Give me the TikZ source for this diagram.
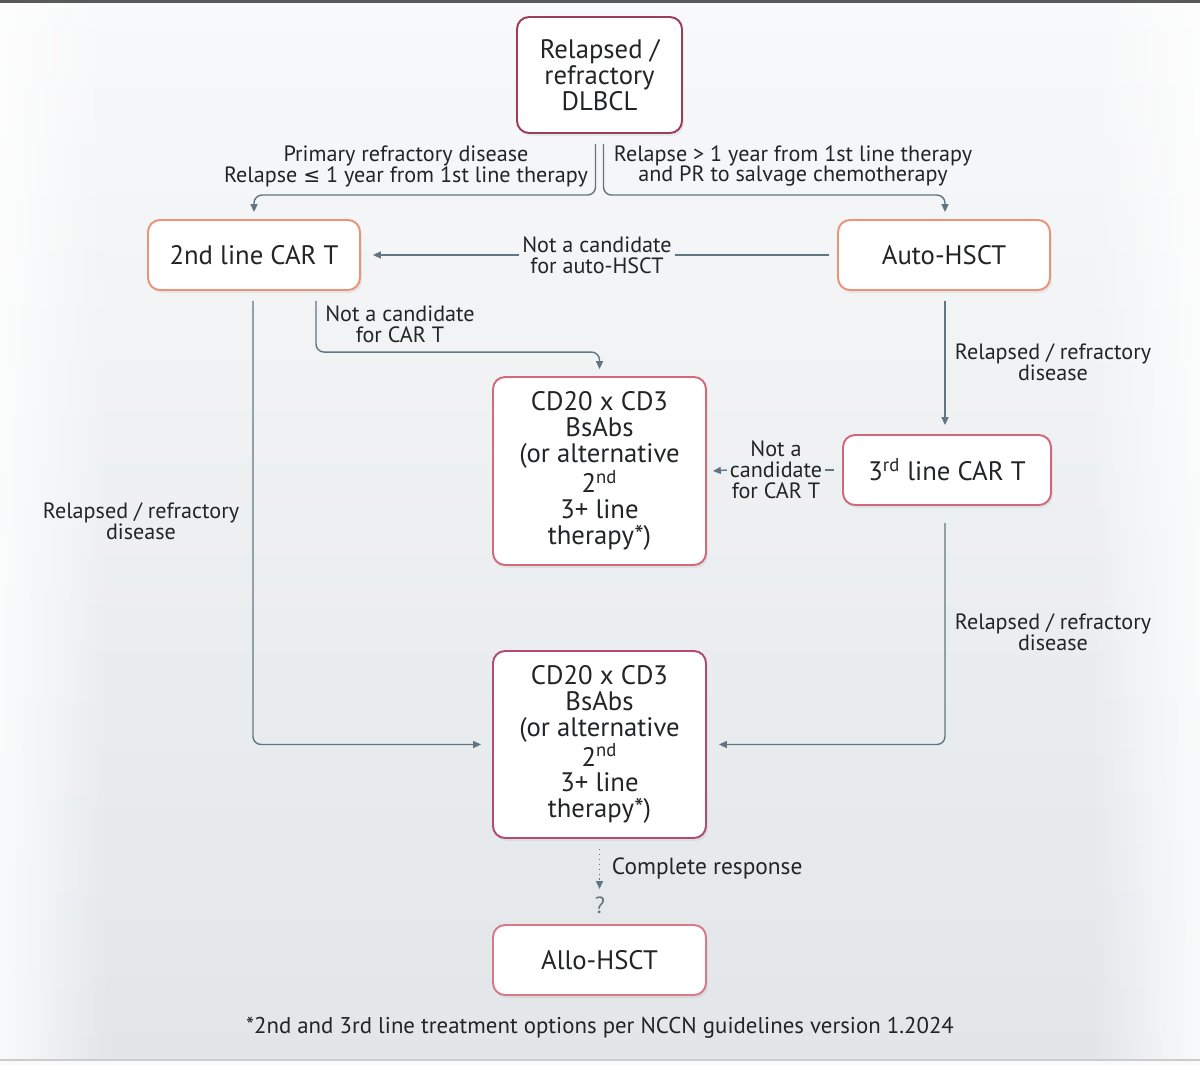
\documentclass[tikz,border=0pt]{standalone}
\usepackage{fontspec}
\setmainfont{PT Sans}
\newfontfamily\symf{DejaVu Sans}
\usetikzlibrary{calc,shadows,fadings,arrows.meta}
\definecolor{conncol}{HTML}{627681}
\definecolor{txt}{HTML}{222426}
\definecolor{topc}{HTML}{9C3D5C}
\definecolor{orc}{HTML}{E99477}
\definecolor{cdac}{HTML}{D46A78}
\definecolor{thc}{HTML}{D0687A}
\definecolor{cdbc}{HTML}{B24C6C}
\definecolor{alc}{HTML}{D77A85}
\definecolor{bgtop}{HTML}{F8F9FA}
\definecolor{bgbot}{HTML}{E2E6E9}
\newcommand\bxf{\fontsize{15.2}{14.7}\selectfont}
\newcommand\lbf{\fontsize{12.6}{11.9}\selectfont}
\newcommand\cpf{\fontsize{13.3}{13}\selectfont}
\newcommand\ftf{\fontsize{13}{13}\selectfont}
\begin{document}
\begin{tikzpicture}[x=0.02cm,y=-0.02cm,
  box/.style={draw, line width=1.1pt, fill=white, rounded corners=0.24cm, align=center,
    text=txt, font=\bxf, inner sep=2pt,
    drop shadow={opacity=0.12, shadow xshift=0.04cm, shadow yshift=-0.06cm}},
  lbl/.style={align=center, text=txt, font=\lbf, inner sep=1.5pt},
  conn/.style={draw=conncol, line width=0.8pt, -{Triangle[length=4.5pt,width=4pt]}},
  connplain/.style={draw=conncol, line width=0.8pt},
]
\useasboundingbox (0,0) rectangle (1200,1065);
\shade[top color=bgtop, bottom color=bgbot] (0,0) rectangle (1200,1060);
\fill[white, fill opacity=0.8, path fading=east] (0,0) rectangle (110,1060);
\fill[white, fill opacity=0.8, path fading=west] (1090,0) rectangle (1200,1060);
\fill[black!65] (0,0) rectangle (1200,3);
\fill[white!96!gray] (0,1060) rectangle (1200,1065);
\draw[black!20, line width=0.6pt] (0,1060) -- (1200,1060);

% boxes
\node[box, draw=topc, minimum width=3.3cm, minimum height=2.32cm] (top) at (599.5,75) {Relapsed /\\refractory\\DLBCL};
\node[box, draw=orc, minimum width=4.24cm, minimum height=1.4cm] (c2) at (254,255) {2nd line CAR T};
\node[box, draw=orc, minimum width=4.24cm, minimum height=1.4cm] (auto) at (944,255) {Auto-HSCT};
\node[box, draw=cdac, minimum width=4.26cm, minimum height=3.76cm] (cd1) at (599.5,471) {CD20 x CD3\\BsAbs\\(or alternative\\2\textsuperscript{nd}\\3+ line\\therapy*)};
\node[box, draw=thc, minimum width=4.16cm, minimum height=1.4cm] (third) at (947,470) {3\textsuperscript{rd} line CAR T};
\node[box, draw=cdbc, minimum width=4.26cm, minimum height=3.74cm] (cd2) at (599.5,744.5) {CD20 x CD3\\BsAbs\\(or alternative\\2\textsuperscript{nd}\\3+ line\\therapy*)};
\node[box, draw=alc, minimum width=4.26cm, minimum height=1.4cm] (allo) at (599.5,960) {Allo-HSCT};

% labels
\node[lbl] (l1) at (406,166) {Primary refractory disease\\Relapse {\symf\fontsize{11.5}{11.9}\selectfont ≤} 1 year from 1st line therapy};
\node[lbl] (l2) at (793,166) {Relapse > 1 year from 1st line therapy\\and PR to salvage chemotherapy};
\node[lbl] (l3) at (597,255) {Not a candidate\\for auto-HSCT};
\node[lbl] (l4) at (400,324) {Not a candidate\\for CAR T};
\node[lbl] (l5) at (141,521) {Relapsed / refractory\\disease};
\node[lbl] (l6) at (1053,362) {Relapsed / refractory\\disease};
\node[lbl] (l7) at (776,470) {Not a\\candidate\\for CAR T};
\node[lbl] (l8) at (1053,632) {Relapsed / refractory\\disease};
\node[lbl, anchor=west, font=\cpf] (l9) at (609,869) {Complete response};
\node[lbl, font=\cpf, text=conncol] (q) at (600,905) {?};
\node[lbl, font=\ftf] (foot) at (600,1028) {*2nd and 3rd line treatment options per NCCN guidelines version 1.2024};

% connectors
\draw[conn, rounded corners=0.16cm] ($(top.south)+(-4,10)$) |- ($(c2.north)+(0,-24)$) -- ($(c2.north)+(0,-7)$);
\draw[conn, rounded corners=0.16cm] ($(top.south)+(4,10)$) |- ($(auto.north)+(1,-24)$) -- ($(auto.north)+(1,-7)$);
\draw[connplain] ($(auto.west)+(-8,0)$) -- (l3.east);
\draw[conn] (l3.west) -- ($(c2.east)+(12,0)$);
\draw[conn, rounded corners=0.16cm] ($(c2.south)+(62,10)$) |- ($(cd1.north)+(0,-24)$) -- ($(cd1.north)+(0,-7)$);
\draw[conn, rounded corners=0.16cm] ($(c2.south)+(-1,10)$) |- ($(cd2.west)+(-11,0)$);
\draw[conn] ($(auto.south)+(1,10)$) -- ($(third.north)+(-2,-9)$);
\draw[connplain] ($(third.west)+(-8,0)$) -- (l7.east);
\draw[conn] (l7.west) -- ($(cd1.east)+(6,0)$);
\draw[conn, rounded corners=0.16cm] ($(third.south)+(-2,17)$) |- ($(cd2.east)+(12,0)$);
\draw[conn, dotted] ($(cd2.south)+(0,10)$) -- ($(cd2.south)+(0,50)$);
\end{tikzpicture}
\end{document}
